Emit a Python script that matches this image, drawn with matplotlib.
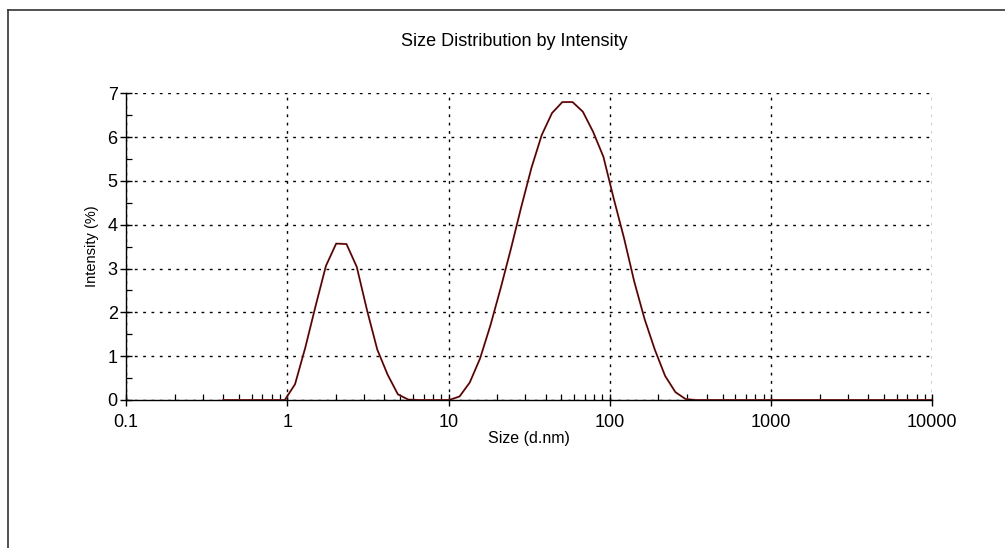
import matplotlib.pyplot as plt
from matplotlib.lines import Line2D
from matplotlib.ticker import LogLocator, MultipleLocator, NullFormatter, FixedLocator

plt.rcParams.update({
    "font.family": ["Liberation Sans", "DejaVu Sans"],
    "axes.linewidth": 1.0,
})

# size bins (d.nm) and intensity (%)
sizes = [0.4, 0.4632, 0.5365, 0.6213, 0.7195, 0.8332, 0.9649, 1.117, 1.294, 1.499,
         1.736, 2.01, 2.328, 2.696, 3.122, 3.615, 4.187, 4.849, 5.615, 6.503,
         7.531, 8.721, 10.1, 11.7, 13.54, 15.69, 18.17, 21.04, 24.36, 28.21,
         32.67, 37.84, 43.82, 50.75, 58.77, 68.06, 78.82, 91.28, 105.7, 122.4,
         141.8, 164.2, 190.1, 220.2, 255.0, 295.3, 342.0, 396.1, 458.7, 531.2,
         615.1, 712.4, 825.0, 955.4, 1106, 1281, 1484, 1718, 1990, 2305,
         2669, 3091, 3580, 4145, 4801, 5560, 6439, 7456, 8635, 10000]
intensity = [0, 0, 0, 0, 0, 0, 0, 0.36, 1.2, 2.15,
             3.06, 3.57, 3.56, 3.04, 2.05, 1.15, 0.58, 0.13, 0.01, 0,
             0, 0, 0, 0.08, 0.4, 0.95, 1.7, 2.55, 3.45, 4.4,
             5.3, 6.05, 6.55, 6.8, 6.8, 6.58, 6.12, 5.55, 4.6, 3.7,
             2.7, 1.85, 1.15, 0.55, 0.18, 0.02, 0, 0, 0, 0,
             0, 0, 0, 0, 0, 0, 0, 0, 0, 0,
             0, 0, 0, 0, 0, 0, 0, 0, 0, 0]

x_ticks = [0.1, 1, 10, 100, 1000, 10000]
x_labels = ["0.1", "1", "10", "100", "1000", "10000"]

fig = plt.figure(figsize=(10.05, 5.48), dpi=100)
ax = fig.add_axes([0.1254, 0.2701, 0.8023, 0.5596])

# red trace under a thin dark one
ax.plot(sizes, intensity, color="#e03030", linewidth=1.4, zorder=3)
ax.plot(sizes, intensity, color="#151010", linewidth=0.8, zorder=4)

ax.set_xscale("log")
ax.set_xlim(0.1, 10000)
ax.set_ylim(0, 7)

ax.xaxis.set_major_locator(FixedLocator(x_ticks))
ax.set_xticks(x_ticks)
ax.set_xticklabels(x_labels)
ax.xaxis.set_minor_locator(LogLocator(base=10, subs=range(2, 10), numticks=20))
ax.xaxis.set_minor_formatter(NullFormatter())
ax.yaxis.set_major_locator(MultipleLocator(1))
ax.yaxis.set_minor_locator(MultipleLocator(0.5))

ax.tick_params(which="major", direction="inout", length=8, width=1.0,
               labelsize=13, colors="black")
ax.tick_params(axis="x", which="major", pad=6)
ax.tick_params(axis="y", which="major", pad=2)
ax.tick_params(which="minor", direction="in", length=4, width=0.9)

for s in ["top", "right"]:
    ax.spines[s].set_visible(False)

ax.grid(True, which="major", color="black", linewidth=1.0, linestyle=(0, (2, 4)))
ax.set_axisbelow(True)

ax.set_xlabel("Size (d.nm)", fontsize=11.5, labelpad=0)
ax.set_ylabel("Intensity (%)", fontsize=10.5, labelpad=6)

fig.text(0.512, 0.924, "Size Distribution by Intensity", fontsize=13,
         ha="center", va="center")

# outer frame (left and top only)
fig.add_artist(Line2D([0.008, 0.008], [0, 0.982], transform=fig.transFigure,
                      color="#333333", linewidth=1.2))
fig.add_artist(Line2D([0.008, 1.0], [0.982, 0.982], transform=fig.transFigure,
                      color="#333333", linewidth=1.2))

fig.savefig("out.png", dpi=100, facecolor="white")
